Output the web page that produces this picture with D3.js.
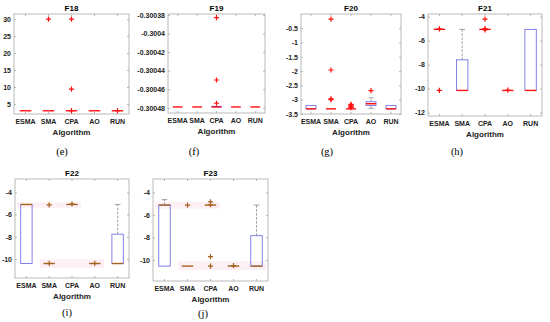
<!DOCTYPE html>
<html>
<head>
<meta charset="utf-8">
<script src="https://cdn.jsdelivr.net/npm/d3@7"></script>
<style>
body { margin: 0; background: #fff; }
svg { display: block; }
</style>
</head>
<body>
<svg id="canvas" width="550" height="322"></svg>
<script>
// data
var categories = ["ESMA", "SMA", "CPA", "AO", "RUN"];

// per algorithm: [lowWhisker, q1, median, q3, highWhisker]
var f18Stats = [[3, 3, 3, 3, 3], [3, 3, 3, 3, 3], [3, 3, 3, 3, 3], [3, 3, 3, 3, 3], [3, 3, 3, 3, 3]];
var f18Out = [[], [30], [30, 9.4, 3.05], [], [3.02]];
var f18Ticks = [5, 10, 15, 20, 25, 30];

var f19Stats = [[-0.300479, -0.300479, -0.300479, -0.300479, -0.300479],
	[-0.300479, -0.300479, -0.300479, -0.300479, -0.300479],
	[-0.300479, -0.300479, -0.300479, -0.3004783, -0.3004783],
	[-0.300479, -0.300479, -0.300479, -0.300479, -0.300479],
	[-0.300479, -0.300479, -0.300479, -0.300479, -0.300479]];
var f19Out = [[], [], [-0.300383, -0.30045, -0.300475], [], []];
var f19Ticks = [-0.30048, -0.30046, -0.30044, -0.30042, -0.3004, -0.30038];

var f20Stats = [[-3.32, -3.32, -3.32, -3.2, -3.2], [-3.32, -3.32, -3.32, -3.32, -3.32],
	[-3.32, -3.32, -3.32, -3.32, -3.32], [-3.3, -3.2, -3.14, -3.07, -2.93], [-3.32, -3.32, -3.32, -3.2, -3.2]];
var f20Out = [[], [-0.18, -1.96, -2.97, -3.0], [-3.16, -3.19, -3.22, -3.25, -3.28], [-2.68], []];
var f20Ticks = [-3.5, -3, -2.5, -2, -1.5, -1, -0.5];

var f21Stats = [[-5.06, -5.06, -5.06, -5.06, -5.06], [-10.15, -10.15, -10.15, -7.6, -5.06],
	[-5.06, -5.06, -5.06, -5.06, -5.06], [-10.15, -10.15, -10.15, -10.15, -10.15], [-10.15, -10.15, -10.15, -5.06, -5.06]];
var f21Out = [[-10.15, -5.02], [], [-4.2, -5.0, -5.1], [-10.12], []];
var f21Ticks = [-12, -10, -8, -6, -4];

var f22Stats = [[-10.4, -10.4, -5.09, -5.09, -5.09], [-10.4, -10.4, -10.4, -10.4, -10.4],
	[-5.09, -5.09, -5.09, -5.09, -5.09], [-10.4, -10.4, -10.4, -10.4, -10.4], [-10.4, -10.4, -10.4, -7.76, -5.09]];
var f22Out = [[], [-5.13, -10.38], [-5.03], [-10.38], []];
var f22Ticks = [-10, -8, -6, -4];

var f23Stats = [[-10.54, -10.54, -5.13, -5.13, -4.65], [-10.54, -10.54, -10.54, -10.54, -10.54],
	[-5.13, -5.13, -5.13, -5.13, -5.13], [-10.54, -10.54, -10.54, -10.54, -10.54], [-10.54, -10.54, -10.54, -7.84, -5.13]];
var f23Out = [[], [-5.13], [-4.85, -5.1, -9.7, -10.54], [-10.5], []];
var f23Ticks = [-10, -8, -6, -4];

// faint highlight bands seen behind F22/F23: [fromCat, toCat, lo, hi]
var f22Bands = [["ESMA", "CPA", -5.4, -4.9], ["SMA", "AO", -10.8, -10.0]];
var f23Bands = [["ESMA", "CPA", -5.45, -4.85], ["SMA", "RUN", -10.9, -10.1]];

// panel frames (pixels) and styling
var panels = [
	{title: "F18", tag: "(e)", stats: f18Stats, out: f18Out, ticks: f18Ticks, domain: [2.05, 31.5], box: [14, 14, 129, 114], tagX: 62, tagY: 151, med: "#ff1010"},
	{title: "F19", tag: "(f)", stats: f19Stats, out: f19Out, ticks: f19Ticks, domain: [-0.3004855, -0.300379], box: [168, 14, 265, 113], tagX: 194, tagY: 151, med: "#ff1010"},
	{title: "F20", tag: "(g)", stats: f20Stats, out: f20Out, ticks: f20Ticks, domain: [-3.5, 0], box: [301, 14, 401, 114], tagX: 327, tagY: 151, med: "#ff1010"},
	{title: "F21", tag: "(h)", stats: f21Stats, out: f21Out, ticks: f21Ticks, domain: [-12.28, -3.78], box: [428, 14, 542, 116], tagX: 457, tagY: 151, med: "#ff1010"},
	{title: "F22", tag: "(i)", stats: f22Stats, out: f22Out, ticks: f22Ticks, domain: [-11.7, -2.8], box: [15, 179, 129, 278], tagX: 67, tagY: 312, med: "#a5621e", bands: f22Bands},
	{title: "F23", tag: "(j)", stats: f23Stats, out: f23Out, ticks: f23Ticks, domain: [-11.86, -2.82], box: [153, 179, 268, 281], tagX: 203, tagY: 313, med: "#a5621e", bands: f23Bands}
];

function trimNum(v) {
	return String(+v.toPrecision(6));
}

function drawPanel(svg, p) {
	var l = p.box[0], t = p.box[1], r = p.box[2], b = p.box[3];
	var x = d3.scaleBand().domain(categories).range([l, r]).padding(0);
	var y = d3.scaleLinear().domain(p.domain).range([b, t]);
	var bw = x.bandwidth() * 0.5;
	var g = svg.append("g");

	if (p.bands) {
		g.selectAll("rect.band")
			.data(p.bands)
			.enter()
			.append("rect")
			.attr("x", function(d){ return x(d[0]) + 2; })
			.attr("width", function(d){ return x(d[1]) + x.bandwidth() - 2 - (x(d[0]) + 2); })
			.attr("y", function(d){ return y(d[3]); })
			.attr("height", function(d){ return y(d[2]) - y(d[3]); })
			.attr("fill", "#fdf0f5");
	}

	// axes
	var ax = d3.axisLeft(y).tickValues(p.ticks).tickFormat(trimNum).tickSize(-2).tickPadding(3);
	g.append("g").attr("transform", "translate(" + l + ",0)").call(ax);
	g.append("g").attr("transform", "translate(" + r + ",0)")
		.call(d3.axisRight(y).tickValues(p.ticks).tickFormat("").tickSize(-2));
	g.append("g").attr("transform", "translate(0," + b + ")")
		.call(d3.axisBottom(x).tickSize(-2).tickPadding(5));
	g.append("g").attr("transform", "translate(0," + t + ")")
		.call(d3.axisTop(x).tickFormat("").tickSize(-2));
	g.selectAll(".domain").remove();
	g.selectAll(".tick line").attr("stroke", "#999").attr("stroke-width", 0.7);
	g.selectAll(".tick text")
		.attr("font-family", "Liberation Sans, Arial, sans-serif")
		.attr("font-weight", "bold")
		.attr("font-size", 7)
		.attr("fill", "#222");

	g.append("rect")
		.attr("x", l).attr("y", t)
		.attr("width", r - l).attr("height", b - t)
		.attr("fill", "none")
		.attr("stroke", "#a8a8a8")
		.attr("stroke-width", 0.8);

	var items = p.stats.map(function(s, i){ return {cat: categories[i], s: s, out: p.out[i]}; });
	var cx = function(d){ return x(d.cat) + x.bandwidth() / 2; };

	// whiskers
	var wg = g.selectAll("g.wh").data(items).enter().append("g");
	wg.each(function(d){
		var sel = d3.select(this);
		var c = cx(d);
		[[d.s[3], d.s[4]], [d.s[1], d.s[0]]].forEach(function(w){
			if (Math.abs(y(w[0]) - y(w[1])) < 0.5) return;
			sel.append("line")
				.attr("x1", c).attr("x2", c)
				.attr("y1", y(w[0])).attr("y2", y(w[1]))
				.attr("stroke", "#888").attr("stroke-width", 0.8)
				.attr("stroke-dasharray", "2.5,1.5");
			sel.append("line")
				.attr("x1", c - bw / 4).attr("x2", c + bw / 4)
				.attr("y1", y(w[1])).attr("y2", y(w[1]))
				.attr("stroke", "#888").attr("stroke-width", 0.8);
		});
	});

	// boxes
	g.selectAll("rect.bx")
		.data(items)
		.enter()
		.append("rect")
		.attr("x", function(d){ return cx(d) - bw / 2; })
		.attr("width", bw)
		.attr("y", function(d){ return y(d.s[3]); })
		.attr("height", function(d){ return Math.max(0, y(d.s[1]) - y(d.s[3])); })
		.attr("fill", "none")
		.attr("stroke", "#7474e6")
		.attr("stroke-width", 0.9);

	// medians
	g.selectAll("line.md")
		.data(items)
		.enter()
		.append("line")
		.attr("x1", function(d){ return cx(d) - bw / 2; })
		.attr("x2", function(d){ return cx(d) + bw / 2; })
		.attr("y1", function(d){ return y(d.s[2]); })
		.attr("y2", function(d){ return y(d.s[2]); })
		.attr("stroke", p.med)
		.attr("stroke-width", 1.4);

	// outliers as plus signs
	var pts = [];
	items.forEach(function(d){
		d.out.forEach(function(v){ pts.push({c: cx(d), v: v}); });
	});
	g.selectAll("path.out")
		.data(pts)
		.enter()
		.append("path")
		.attr("d", function(d){
			var px = d.c, py = y(d.v), k = 2.6;
			return "M" + (px - k) + "," + py + "H" + (px + k) + "M" + px + "," + (py - k) + "V" + (py + k);
		})
		.attr("stroke", p.med)
		.attr("stroke-width", 1.2);

	// title, x label, panel tag
	g.append("text")
		.attr("x", (l + r) / 2).attr("y", t - 3)
		.attr("text-anchor", "middle")
		.attr("font-family", "Liberation Sans, Arial, sans-serif")
		.attr("font-weight", "bold")
		.attr("font-size", 8)
		.text(p.title);
	g.append("text")
		.attr("x", (l + r) / 2).attr("y", b + 21)
		.attr("text-anchor", "middle")
		.attr("font-family", "Liberation Sans, Arial, sans-serif")
		.attr("font-weight", "bold")
		.attr("font-size", 8)
		.attr("fill", "#222")
		.text("Algorithm");
	g.append("text")
		.attr("x", p.tagX).attr("y", p.tagY + 3.5)
		.attr("text-anchor", "middle")
		.attr("font-family", "Liberation Serif, Times New Roman, serif")
		.attr("font-size", 10.5)
		.text(p.tag);
}

var svg = d3.select("#canvas");
panels.forEach(function(p){ drawPanel(svg, p); });
</script>
</body>
</html>
